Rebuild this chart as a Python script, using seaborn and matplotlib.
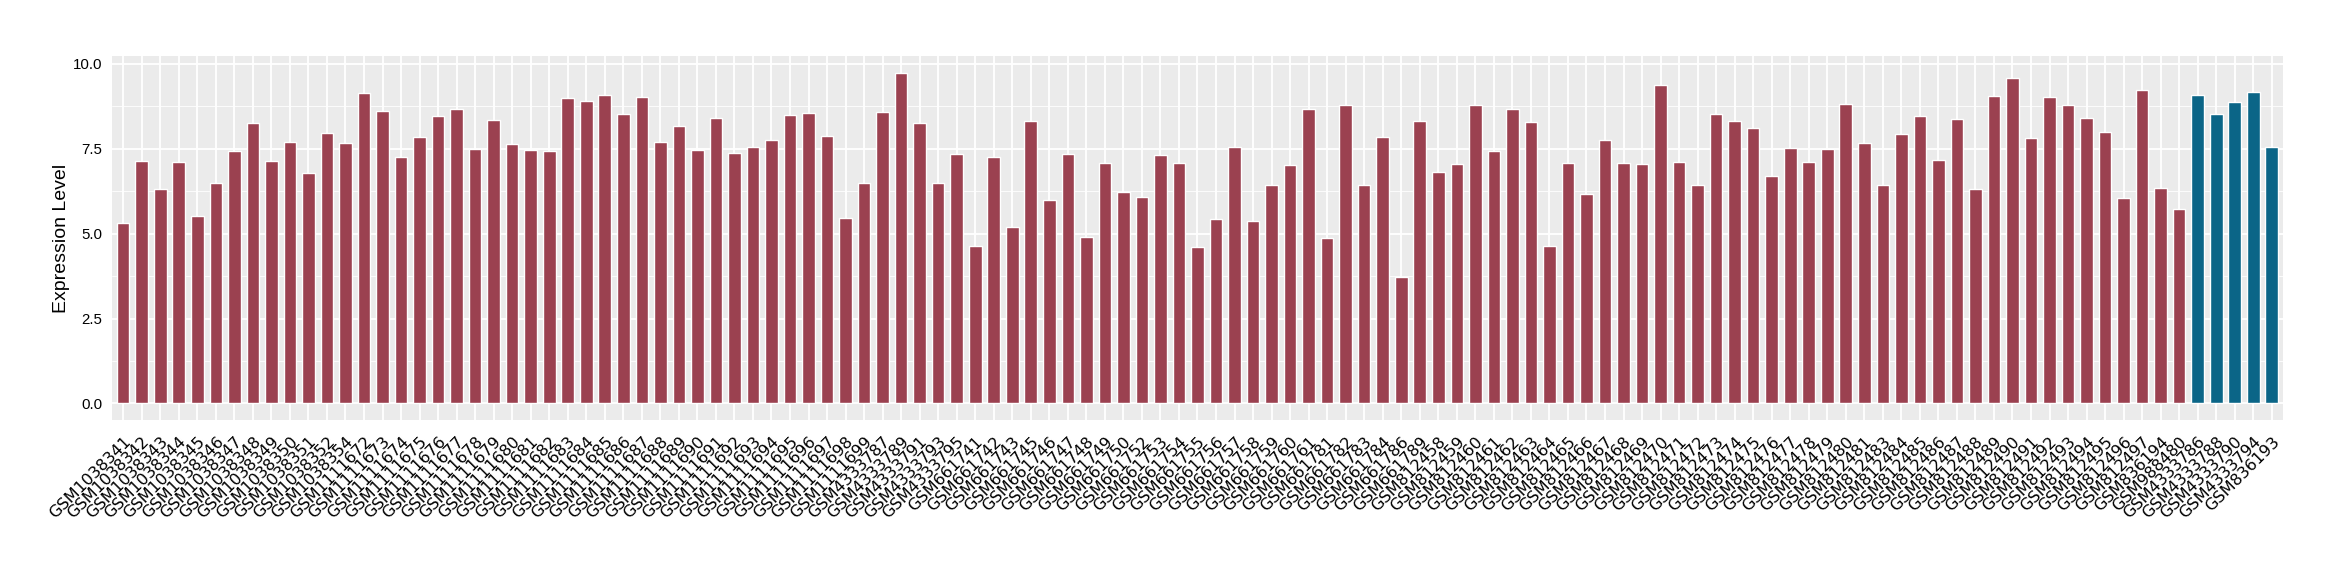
import numpy as np
import pandas as pd
import seaborn as sns
import matplotlib.pyplot as plt
from matplotlib.ticker import MultipleLocator

# sample ids in plotting order
samples = [
    "GSM1038341", "GSM1038342", "GSM1038343", "GSM1038344", "GSM1038345", "GSM1038346",
    "GSM1038347", "GSM1038348", "GSM1038349", "GSM1038350", "GSM1038351", "GSM1038352",
    "GSM1038354", "GSM1111672", "GSM1111673", "GSM1111674", "GSM1111675", "GSM1111676",
    "GSM1111677", "GSM1111678", "GSM1111679", "GSM1111680", "GSM1111681", "GSM1111682",
    "GSM1111683", "GSM1111684", "GSM1111685", "GSM1111686", "GSM1111687", "GSM1111688",
    "GSM1111689", "GSM1111690", "GSM1111691", "GSM1111692", "GSM1111693", "GSM1111694",
    "GSM1111695", "GSM1111696", "GSM1111697", "GSM1111698", "GSM1111699",
    "GSM4333787", "GSM4333789", "GSM4333791", "GSM4333793", "GSM4333795",
    "GSM661741", "GSM661742", "GSM661743", "GSM661745", "GSM661746", "GSM661747",
    "GSM661748", "GSM661749", "GSM661750", "GSM661752", "GSM661753", "GSM661754",
    "GSM661755", "GSM661756", "GSM661757", "GSM661758", "GSM661759", "GSM661760",
    "GSM661761", "GSM661781", "GSM661782", "GSM661783", "GSM661784", "GSM661786",
    "GSM661789", "GSM812458", "GSM812459", "GSM812460", "GSM812461", "GSM812462",
    "GSM812463", "GSM812464", "GSM812465", "GSM812466", "GSM812467", "GSM812468",
    "GSM812469", "GSM812470", "GSM812471", "GSM812472", "GSM812473", "GSM812474",
    "GSM812475", "GSM812476", "GSM812477", "GSM812478", "GSM812479", "GSM812480",
    "GSM812481", "GSM812483", "GSM812484", "GSM812485", "GSM812486", "GSM812487",
    "GSM812488", "GSM812489", "GSM812490", "GSM812491", "GSM812492", "GSM812493",
    "GSM812494", "GSM812495", "GSM812496", "GSM812497", "GSM836194", "GSM988480",
    "GSM4333786", "GSM4333788", "GSM4333790", "GSM4333794", "GSM836193",
]

expression = [
    5.30, 7.15, 6.30, 7.12, 5.53, 6.50,
    7.44, 8.26, 7.15, 7.69, 6.78, 7.95,
    7.66, 9.15, 8.61, 7.27, 7.84, 8.47,
    8.67, 7.50, 8.35, 7.63, 7.47, 7.44,
    8.98, 8.92, 9.07, 8.52, 9.01, 7.69,
    8.18, 7.47, 8.41, 7.38, 7.56, 7.75,
    8.50, 8.55, 7.87, 5.45, 6.50,
    8.58, 9.74, 8.26, 6.50, 7.35,
    4.65, 7.27, 5.19, 8.32, 5.99, 7.35,
    4.91, 7.07, 6.24, 6.07, 7.32, 7.07,
    4.62, 5.42, 7.56, 5.36, 6.44, 7.02,
    8.67, 4.88, 8.78, 6.44, 7.84, 3.71,
    8.32, 6.81, 7.04, 8.78, 7.44, 8.67,
    8.29, 4.65, 7.07, 6.18, 7.75, 7.07,
    7.04, 9.38, 7.12, 6.42, 8.52, 8.32,
    8.10, 6.70, 7.53, 7.12, 7.50, 8.83,
    7.66, 6.44, 7.92, 8.47, 7.18, 8.38,
    6.30, 9.04, 9.58, 7.81, 9.01, 8.80,
    8.41, 7.98, 6.05, 9.23, 6.33, 5.73,
    9.07, 8.52, 8.89, 9.18, 7.56,
]

group = ["control"] * 112 + ["case"] * 5
palette = {"control": "#9B4150", "case": "#0B6587"}

df = pd.DataFrame({"sample": samples, "value": expression, "group": group})

sns.set_theme(style="darkgrid")
plt.rcParams["font.family"] = ["Liberation Sans", "DejaVu Sans"]

fig = plt.figure(figsize=(23.4, 5.8), dpi=100)
ax = fig.add_axes([0.0479, 0.2759, 0.9277, 0.6275])
ax.set_facecolor("#EBEBEB")

sns.barplot(data=df, x="sample", y="value", hue="group", palette=palette,
            dodge=False, width=0.68, saturation=1, legend=False, ax=ax)

ax.set_xlim(-0.6, len(samples) - 0.4)
ax.set_ylim(-0.487, 10.23)
ax.yaxis.set_major_locator(MultipleLocator(2.5))
ax.yaxis.set_minor_locator(MultipleLocator(1.25))
ax.yaxis.set_major_formatter(plt.FormatStrFormatter("%.1f"))
ax.set_axisbelow(True)
ax.grid(which="major", color="white", linewidth=1.3)
ax.grid(which="minor", axis="y", color="white", linewidth=0.6)
for s in ax.spines.values():
    s.set_visible(False)

ax.tick_params(axis="both", which="major", length=4, width=1, color="#333333",
               pad=3)
ax.tick_params(axis="x", pad=6)
ax.tick_params(axis="y", which="minor", length=0)
plt.setp(ax.get_yticklabels(), fontsize=10.8, color="black")
plt.setp(ax.get_xticklabels(), rotation=45, ha="right", rotation_mode="anchor",
         fontsize=11.6, family="DejaVu Sans", color="black")

ax.set_xlabel("")
ax.set_ylabel("Expression Level", fontsize=14, color="black", labelpad=2)

fig.savefig("out.png", dpi=100)
